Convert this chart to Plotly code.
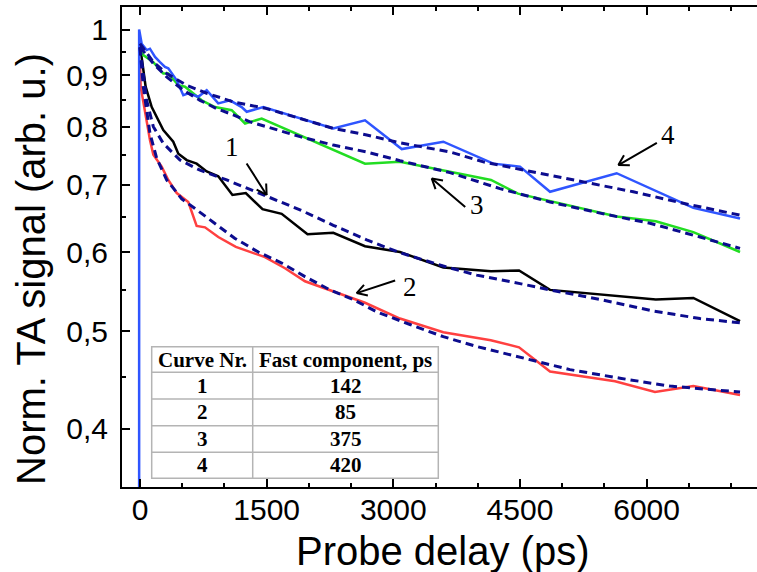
import math
import plotly.graph_objects as go

# ---------------- data ----------------
# Curve 1 (black) measured
t1 = [0, 39, 67, 139, 217, 276, 394, 454, 553, 671, 790, 927, 1095, 1253, 1451, 1678,
      1984, 2289, 2665, 3079, 3592, 4157, 4489, 4856, 6109, 6553, 7106]
s1 = [0.965, 0.911, 0.877, 0.837, 0.812, 0.794, 0.773, 0.752, 0.741, 0.735, 0.722, 0.714,
      0.684, 0.687, 0.662, 0.655, 0.625, 0.627, 0.608, 0.600, 0.579, 0.574, 0.575, 0.550,
      0.538, 0.540, 0.512]
# Curve 2 (red) measured
t2 = [0, 8, 118, 158, 257, 335, 435, 572, 671, 770, 927, 1135, 1480, 1717, 1954, 2289,
      2665, 3079, 3592, 4154, 4489, 4856, 5626, 6099, 6553, 7106]
s2 = [0.93, 0.877, 0.776, 0.750, 0.730, 0.708, 0.687, 0.673, 0.637, 0.635, 0.621, 0.607,
      0.593, 0.578, 0.561, 0.548, 0.534, 0.515, 0.499, 0.490, 0.482, 0.456, 0.446, 0.435,
      0.441, 0.432]
# Curve 3 (green) measured
t3 = [0, 39, 158, 276, 335, 454, 533, 731, 888, 1086, 1244, 1441, 2665, 3079, 4157, 4477,
      5645, 6109, 6553, 7106]
s3 = [0.955, 0.943, 0.928, 0.904, 0.904, 0.880, 0.877, 0.850, 0.837, 0.831, 0.806, 0.815,
      0.735, 0.738, 0.708, 0.686, 0.651, 0.644, 0.628, 0.600]
# Curve 4 (blue) measured (starts with the rise at zero delay)
t4 = [-10, -10, 20, 79, 118, 178, 237, 296, 335, 435, 513, 572, 690, 790, 927, 1066, 1204,
      1264, 1460, 2289, 2665, 3100, 3592, 4184, 4500, 4856, 5645, 6553, 7106]
s4 = [0.20, 1.0, 0.968, 0.954, 0.957, 0.939, 0.928, 0.918, 0.915, 0.890, 0.860, 0.864,
      0.857, 0.870, 0.844, 0.850, 0.837, 0.828, 0.837, 0.797, 0.812, 0.760, 0.773, 0.735,
      0.730, 0.689, 0.719, 0.664, 0.648]

# Fits (dashed)
ft1 = [0, 79, 158, 276, 474, 711, 1027, 1303, 1500, 1895, 2289, 2685, 3079, 3592, 3987,
       4500, 4856, 5448, 6079, 6632, 7106]
fs1 = [0.96, 0.850, 0.800, 0.770, 0.741, 0.724, 0.708, 0.692, 0.682, 0.661, 0.638, 0.617,
       0.599, 0.581, 0.569, 0.558, 0.550, 0.538, 0.524, 0.515, 0.510]
ft2 = [0, 39, 118, 198, 316, 494, 651, 888, 1125, 1401, 1678, 1954, 2250, 2526, 2803,
       3198, 3592, 3987, 4500, 5092, 5685, 6277, 7106]
fs2 = [0.96, 0.877, 0.788, 0.744, 0.708, 0.678, 0.663, 0.640, 0.619, 0.600, 0.585, 0.567,
       0.550, 0.538, 0.523, 0.508, 0.494, 0.483, 0.471, 0.458, 0.449, 0.441, 0.435]
ft3 = [0, 158, 316, 513, 711, 908, 1105, 1303, 1500, 1895, 2289, 2685, 3079, 3671, 4263,
       4856, 5448, 6040, 6632, 7106]
fs3 = [0.961, 0.925, 0.897, 0.870, 0.850, 0.834, 0.822, 0.809, 0.800, 0.782, 0.767, 0.755,
       0.740, 0.720, 0.694, 0.673, 0.656, 0.641, 0.621, 0.605]
ft4 = [0, 158, 316, 553, 790, 1105, 1500, 1895, 2289, 2685, 3079, 3671, 4066, 4658, 5250,
       5842, 6434, 7106]
fs4 = [0.968, 0.928, 0.904, 0.880, 0.864, 0.847, 0.834, 0.815, 0.797, 0.785, 0.771, 0.755,
       0.738, 0.721, 0.705, 0.689, 0.671, 0.653]

# Table
table_header = ["Curve Nr.", "Fast component, ps"]
table_curves = ["1", "2", "3", "4"]
table_fast = ["142", "85", "375", "420"]

# Axis ticks
x_ticks = [0, 1500, 3000, 4500, 6000]
x_ticktext = ["0", "1500", "3000", "4500", "6000"]
x_minor = [500, 1000, 2000, 2500, 3500, 4000, 5000, 5500, 6500, 7000]
y_ticks = [0.4, 0.5, 0.6, 0.7, 0.8, 0.9, 1.0]
y_ticktext = ["0,4", "0,5", "0,6", "0,7", "0,8", "0,9", "1"]
y_minor = [0.35, 0.45, 0.55, 0.65, 0.75, 0.85, 0.95]

# Curve labels: (label, text position (ps, value), arrow head (ps, value), tail offset px)
labels = [
    ("1", (1085, 0.764), (1500, 0.684), (-21, -33)),
    ("2", (3198, 0.554), (2566, 0.546), (40, -13)),
    ("3", (3988, 0.668), (3455, 0.7105), (35, 30)),
    ("4", (6257, 0.785), (5665, 0.7325), (40, -23)),
]

# ---------------- figure ----------------
W, H = 757, 572
ML, MR, MT, MB = 122, 0, 7, 85
PW, PH = W - ML - MR, H - MT - MB

SANS = "Liberation Sans, Arial, sans-serif"
SERIF = "Liberation Serif, Times New Roman, serif"
DASH_COL = "#0c0c8e"

fig = go.Figure()
solid = [(t1, s1, "#000000"), (t2, s2, "#ff4040"), (t3, s3, "#22dd22"), (t4, s4, "#2f55ff")]
for t, s, c in solid:
    fig.add_trace(go.Scatter(x=t, y=s, mode="lines", line=dict(color=c, width=2.5),
                             showlegend=False, hoverinfo="skip"))
for t, s in [(ft1, fs1), (ft2, fs2), (ft3, fs3), (ft4, fs4)]:
    fig.add_trace(go.Scatter(x=t, y=s, mode="lines",
                             line=dict(color=DASH_COL, width=3, dash="8px,5px"),
                             showlegend=False, hoverinfo="skip"))


def px2paper(px, py):
    return (px - ML) / PW, (H - MB - py) / PH


annotations = []
shapes = []

# arrows with open V heads
for lab, (tx, tv), (hx, hv), (dx, dy) in labels:
    annotations.append(dict(x=tx, y=math.log10(tv), xref="x", yref="y", text=lab,
                            showarrow=False, font=dict(family=SERIF, size=27, color="black"),
                            xanchor="center", yanchor="middle"))
    annotations.append(dict(x=hx, y=math.log10(hv), xref="x", yref="y", text="",
                            showarrow=True, arrowhead=0, arrowwidth=2, arrowcolor="black",
                            ax=dx, ay=dy))
    L = math.hypot(dx, dy)
    ux, uy = dx / L, dy / L
    for ang in (30, -30):
        a = math.radians(ang)
        vx = ux * math.cos(a) - uy * math.sin(a)
        vy = ux * math.sin(a) + uy * math.cos(a)
        annotations.append(dict(x=hx, y=math.log10(hv), xref="x", yref="y", text="",
                                showarrow=True, arrowhead=0, arrowwidth=2, arrowcolor="black",
                                ax=vx * 13, ay=vy * 13))

# table (pixel geometry)
tx0, txm, tx1 = 151.7, 252.7, 438.3
rows_y = [346.7, 372.3, 399.0, 425.7, 452.3, 478.3]
BORDER = "#b4b4b4"
x0p, y0p = px2paper(tx0, rows_y[-1])
x1p, y1p = px2paper(tx1, rows_y[0])
shapes.append(dict(type="rect", xref="paper", yref="paper", x0=x0p, x1=x1p, y0=y0p, y1=y1p,
                   fillcolor="white", line=dict(color=BORDER, width=1.5), layer="above"))
for ry in rows_y[1:-1]:
    a, b = px2paper(tx0, ry)
    c, _ = px2paper(tx1, ry)
    shapes.append(dict(type="line", xref="paper", yref="paper", x0=a, x1=c, y0=b, y1=b,
                       line=dict(color=BORDER, width=1.5), layer="above"))
mx, _ = px2paper(txm, 0)
shapes.append(dict(type="line", xref="paper", yref="paper", x0=mx, x1=mx, y0=y0p, y1=y1p,
                   line=dict(color=BORDER, width=1.5), layer="above"))

col_c = [(tx0 + txm) / 2, (txm + tx1) / 2]
cells = [table_header] + [[a, b] for a, b in zip(table_curves, table_fast)]
for i, row in enumerate(cells):
    cy = (rows_y[i] + rows_y[i + 1]) / 2
    for j, txt in enumerate(row):
        px_, py_ = px2paper(col_c[j], cy)
        annotations.append(dict(x=px_, y=py_, xref="paper", yref="paper", text="<b>%s</b>" % txt,
                                showarrow=False, font=dict(family=SERIF, size=21, color="black"),
                                xanchor="center", yanchor="middle"))

# axis titles
ax_, ay_ = px2paper(442, 551)
annotations.append(dict(x=ax_, y=ay_, xref="paper", yref="paper", text="Probe delay (ps)",
                        showarrow=False, font=dict(family=SANS, size=40, color="black"),
                        xanchor="center", yanchor="middle"))
bx_, by_ = px2paper(31, 269)
annotations.append(dict(x=bx_, y=by_, xref="paper", yref="paper", text="Norm. TA signal (arb. u.)",
                        showarrow=False, textangle=-90, font=dict(family=SANS, size=40, color="black"),
                        xanchor="center", yanchor="middle"))

fig.update_layout(
    width=W, height=H,
    margin=dict(l=ML, r=MR, t=MT, b=MB),
    paper_bgcolor="white", plot_bgcolor="white",
    showlegend=False,
    annotations=annotations, shapes=shapes,
    xaxis=dict(range=[-213, 7307], tickmode="array", tickvals=x_ticks, ticktext=x_ticktext,
               ticks="inside", ticklen=8, tickwidth=2, tickcolor="black",
               showline=True, linewidth=2, linecolor="black", mirror="allticks",
               showgrid=False, zeroline=False,
               tickfont=dict(family=SANS, size=30, color="black"),
               ticklabelstandoff=-5,
               minor=dict(tickmode="array", tickvals=x_minor, ticks="inside", ticklen=4,
                          tickwidth=1.5, tickcolor="black", showgrid=False)),
    yaxis=dict(type="log", range=[-0.4562, 0.0225], tickmode="array", tickvals=y_ticks,
               ticktext=y_ticktext, ticks="inside", ticklen=8, tickwidth=2, tickcolor="black",
               showline=True, linewidth=2, linecolor="black", mirror=False,
               showgrid=False, zeroline=False,
               tickfont=dict(family=SANS, size=30, color="black"),
               ticklabelstandoff=6,
               minor=dict(tickmode="array", tickvals=y_minor, ticks="inside", ticklen=4,
                          tickwidth=1.5, tickcolor="black", showgrid=False)),
)

fig.write_html("out.html")
